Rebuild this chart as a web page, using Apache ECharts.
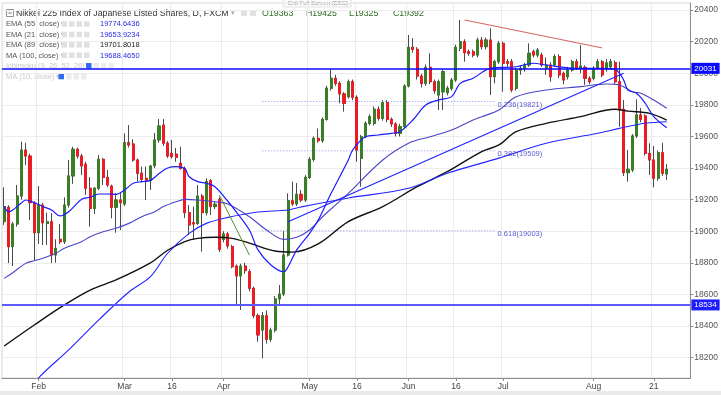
<!DOCTYPE html>
<html><head><meta charset="utf-8">
<script src="https://cdn.jsdelivr.net/npm/echarts@6/dist/echarts.min.js"></script>
<style>html,body{margin:0;padding:0;background:#fff}#c{width:721px;height:395px}</style>
</head><body><div id="c"></div>
<script>
// ---------- DATA ----------
const startDate = '2017-01-20';
const categoryCount = 160; // 155 candles + 5 empty slots on the right
const tickDates  = ['2017-02-01','2017-03-01','2017-03-16','2017-04-03','2017-05-01','2017-05-16','2017-06-01','2017-06-16','2017-07-03','2017-08-01','2017-08-21'];
const tickLabels = ['Feb','Mar','16','Apr','May','16','Jun','16','Jul','Aug','21'];

const opens  = [19061,19152,18903,19046,19223,19514,19476,19177,18991,19166,19050,19060,18850,18949,18934,19166,19350,19519,19476,19424,19272,19145,19272,19455,19341,19286,19152,19198,19173,19560,19552,19451,19367,19335,19320,19415,19578,19672,19557,19493,19488,19430,19398,19118,19054,19050,19223,19118,19320,19156,19202,18949,18983,18903,18780,18717,18780,18744,18639,18466,18375,18466,18317,18375,18572,18603,18850,19193,19173,19234,19198,19341,19455,19588,19573,19708,19905,19968,19936,19869,19851,19946,19848,19462,19598,19683,19683,19772,19715,19814,19708,19679,19620,19662,19919,20164,20151,19982,19936,20037,19946,19862,19883,19877,19905,19957,20158,20199,20136,20136,20115,20210,20168,20210,19978,20073,20189,20073,20073,19905,20020,20031,20052,20136,20115,20115,20031,20052,20052,20105,19999,19978,20020,20073,20031,20037,19968,19968,20031,20073,20031,20041,20067,19946,19772,19371,19388,19603,19736,19730,19493,19451,19335,19497,19363];
const highs  = [19278,19165,19060,19293,19567,19560,19490,19190,19286,19180,19118,19115,18949,19046,19215,19451,19535,19530,19490,19440,19343,19280,19483,19465,19388,19295,19242,19242,19620,19672,19582,19460,19409,19409,19420,19622,19710,19710,19570,19578,19527,19535,19410,19166,19156,19293,19235,19335,19330,19185,19215,19000,18995,18915,18790,18795,18800,18760,18650,18480,18490,18500,18390,18590,18660,19002,19240,19314,19305,19261,19355,19470,19600,19650,19720,19920,20025,19990,19950,19880,19960,19960,19860,19610,19695,19740,19790,19790,19830,19830,19720,19690,19680,19930,20242,20221,20165,19995,20055,20126,19960,19960,20025,19920,19970,20180,20337,20215,20150,20150,20225,20230,20225,20284,20085,20205,20200,20090,20090,20035,20050,20065,20189,20150,20160,20130,20100,20070,20120,20120,20010,20040,20085,20090,20179,20050,19980,20045,20090,20085,20090,20090,20080,20073,19830,19514,19615,19835,19780,19740,19557,19540,19510,19560,19425];
const lows   = [19040,18799,18780,19030,19200,19419,19071,18818,18920,18913,18913,18799,18801,18920,18920,19150,19300,19460,19356,19230,19029,19109,19260,19293,19280,19082,18991,19008,19160,19530,19440,19314,19310,19198,19261,19400,19560,19540,19464,19460,19440,19390,19084,18977,18945,19040,18871,19100,19103,19140,18870,18930,18890,18766,18534,18502,18730,18620,18450,18301,18196,18290,18300,18360,18534,18590,18840,19160,19160,19185,19185,19330,19440,19560,19560,19700,19890,19920,19810,19757,19840,19830,19440,19282,19590,19670,19670,19700,19700,19690,19660,19600,19600,19650,19910,20130,19960,19910,19920,19930,19870,19767,19767,19860,19890,19945,20140,20073,20110,20100,20100,20150,20150,19862,19936,20060,19883,20040,19880,19890,19990,20010,20040,20100,20100,20040,19990,19946,20040,19970,19930,19960,20010,20020,20000,19926,19930,19955,20020,19975,20010,20030,19930,19662,19350,19314,19375,19590,19690,19480,19356,19278,19320,19350,19325];
const closes = [19156,18903,19046,19223,19514,19476,19181,18991,19166,19054,19060,18850,18892,18934,19166,19350,19519,19476,19413,19272,19145,19272,19455,19341,19293,19152,19198,19181,19560,19546,19451,19367,19329,19320,19413,19578,19666,19557,19476,19472,19468,19398,19118,19040,19046,19223,19118,19314,19156,19171,18886,18983,18907,18776,18717,18780,18751,18639,18466,18344,18466,18317,18375,18572,18603,18850,19193,19173,19234,19198,19341,19455,19588,19573,19708,19905,19968,19936,19869,19810,19946,19848,19514,19598,19683,19725,19772,19715,19814,19708,19679,19620,19662,19919,20164,20151,19982,19936,20037,19946,19889,19946,20010,19905,19957,20164,20199,20130,20126,20115,20210,20168,20210,19978,20073,20189,20063,20063,19894,20020,20031,20052,20126,20115,20147,20052,20052,19978,20105,19989,19957,20020,20073,20031,20045,19968,19946,20031,20073,19989,20065,20073,19946,19767,19371,19392,19603,19736,19708,19493,19451,19335,19497,19367,19392];

// indicator lines: [candle index, price]
const ema21 = [[0,19156],[1,19124],[2,19135],[4,19179],[5,19198],[7,19181],[9,19156],[11,19135],[13,19097],[15,19124],[18,19202],[20,19215],[22,19236],[24,19236],[26,19234],[28,19261],[30,19304],[32,19314],[34,19322],[36,19365],[38,19400],[40,19409],[42,19395],[43,19345],[45,19314],[47,19303],[49,19282],[52,19190],[53,19156],[57,19008],[59,18882],[62,18787],[65,18744],[66,18776],[68,18882],[71,18987],[73,19071],[76,19240],[80,19451],[81,19514],[84,19598],[87,19609],[90,19620],[92,19630],[95,19704],[98,19799],[101,19831],[104,19852],[106,19936],[109,19968],[113,20031],[119,20041],[123,20063],[126,20052],[133,20031],[139,20031],[142,20025],[143,20000],[144,19957],[145,19894],[147,19873],[149,19810],[151,19725],[154,19655]];
const ema55 = [[0,18702],[2,18738],[5,18797],[7,18814],[9,18829],[12,18861],[14,18892],[18,18934],[20,18966],[23,18997],[26,19019],[29,19050],[32,19092],[35,19124],[37,19156],[40,19187],[42,19202],[45,19198],[49,19187],[52,19173],[57,19092],[61,19008],[65,18949],[68,18962],[71,19008],[74,19092],[77,19166],[80,19240],[88,19451],[94,19557],[99,19598],[104,19641],[109,19704],[111,19725],[115,19767],[119,19851],[126,19894],[134,19915],[140,19932],[143,19926],[146,19883],[148,19873],[151,19830],[154,19778]];
const ema89 = [[0,18274],[7,18407],[14,18534],[20,18628],[26,18692],[34,18800],[38,18880],[42,18935],[45,18955],[49,18962],[53,18955],[57,18925],[63,18875],[67,18868],[73,18920],[80,19061],[88,19156],[96,19282],[103,19377],[111,19504],[115,19546],[119,19630],[126,19683],[134,19725],[142,19772],[145,19760],[150,19746],[154,19704]];
const ma100 = [[5,17950],[8,18072],[15,18249],[22,18439],[29,18616],[34,18713],[38,18861],[43,18987],[47,19050],[52,19088],[59,19122],[66,19135],[69,19154],[80,19211],[94,19272],[103,19367],[115,19463],[126,19557],[138,19620],[143,19651],[149,19683],[154,19693]];

// drawings
const blueTrend  = [[66,19060],[144,20000]];
const redTrend   = [[107,20337],[139,20160]];
const greenTrend = [[50,19230],[57,18850]];
const fibLevels  = [0.236, 0.382, 0.618];
const fibPrices  = [19821, 19509, 19003];
const fibStart   = [60, 60, 60];
const fibEnd     = 113.5;
const hLines     = [20031, 18534];
const lastPrice  = 19392;

const legendNames  = ['EMA (55, close)','EMA (21, close)','EMA (89, close)','MA (100, close)'];
const legendValues = ['19774.6436','19653.9234','19701.8018','19688.4650'];
const hiddenNames  = ['Ichimoku (9, 26, 52, 26)','MA (10, close)'];
const titleText = 'Nikkei 225 Index of Japanese Listed Shares, D, FXCM';
const ohlcText = ['O19363','H19425','L19325','C19392'];

// ---------- BUILD ----------
function weekdays(start, n){
  const out=[]; const d=new Date(start+'T00:00:00Z');
  while(out.length<n){ const wd=d.getUTCDay(); if(wd!==0&&wd!==6) out.push(d.toISOString().slice(0,10)); d.setUTCDate(d.getUTCDate()+1);} return out;
}
const categories = weekdays(startDate, categoryCount);
const labelMap = {}; tickDates.forEach((d,i)=>labelMap[d]=tickLabels[i]);
const isTick = (i, v) => labelMap[v] !== undefined;

const UP='#3a7f27', DOWN='#ec1c24', WICK='#4a4a4a';
const FONT='"Liberation Sans", Arial, sans-serif';
const wickData = opens.map((o,i)=>[o, closes[i], lows[i], highs[i]]);
const bodyData = opens.map((o,i)=>[o, closes[i], Math.min(o,closes[i]), Math.max(o,closes[i])]);

function lineS(data, color, width, smooth){
  return {type:'line', data, showSymbol:false, smooth: smooth===undefined?0.35:smooth, lineStyle:{color, width}, z:4, silent:true, animation:false, clip:true};
}

const markData = [];
hLines.forEach((v,i)=>{
  const c = i===0 ? '#0a0aff' : '#5b5bff';
  markData.push({yAxis:v, lineStyle:{color:c, width:i===0?1.5:2, type:'solid'},
    label:{show:true, position:'end', formatter:String(v), backgroundColor:i===0?'#0a0aff':'#1e1eff', color:'#fff', padding:[2,3,1,3], fontSize:8, fontFamily:FONT, distance:1}});
});
markData.push({yAxis:lastPrice, lineStyle:{opacity:0, width:0},
  label:{show:true, position:'end', formatter:String(lastPrice), backgroundColor:'#3d7d22', color:'#fff', padding:[2,3,1,3], fontSize:8, fontFamily:FONT, distance:1}});

const fibSeries = fibLevels.map((f,i)=>({
  type:'line', data:[[fibStart[i], fibPrices[i]],[fibEnd, fibPrices[i]]], showSymbol:false, silent:true, z:3,
  lineStyle:{color:'#8f8ff5', width:1, type:[1,2]},
  endLabel:{show:true, formatter: f.toFixed(3)+'('+fibPrices[i]+')', color:'#5c5cd6', fontSize:7.5, fontFamily:FONT, distance:3, offset:[0,3]}
}));

const graphics = [];
// title row
graphics.push({type:'rect', shape:{x:6.5,y:9.5,width:7,height:7}, style:{fill:'#fff', stroke:'#777', lineWidth:0.8}});
graphics.push({type:'line', shape:{x1:8.3,y1:13,x2:11.8,y2:13}, style:{stroke:'#555', lineWidth:0.8}});
graphics.push({type:'text', x:16, y:13.5, style:{text:titleText, fill:'#333', font:'8.8px '+FONT, verticalAlign:'middle'}});
graphics.push({type:'text', x:231, y:13.5, style:{text:'▾', fill:'#aaa', font:'7px '+FONT, verticalAlign:'middle'}});
[241,250].forEach(x=>graphics.push({type:'rect', shape:{x:x,y:10,width:6,height:6}, style:{fill:'#e2e2e2'}}));
const ohlcX=[262,306,349,393];
ohlcText.forEach((t,i)=>graphics.push({type:'text', x:ohlcX[i], y:13.5, style:{text:t, fill:'#2f6a22', font:'8.8px '+FONT, verticalAlign:'middle'}}));
// tooltip
graphics.push({type:'rect', shape:{x:283,y:-2,width:68,height:9}, style:{fill:'#fafafa', stroke:'#ddd', lineWidth:0.8}});
graphics.push({type:'text', x:288, y:3, style:{text:'Exit Full Screen (ESC)', fill:'#999', font:'6px '+FONT, verticalAlign:'middle'}});
// indicator rows
const rowY=[24.3,34.7,45.1,55.5,66,76.8];
legendNames.forEach((n,i)=>{
  const y=rowY[i];
  graphics.push({type:'text', x:6, y:y, style:{text:n+' ▾', fill:'#555', font:'7.5px '+FONT, verticalAlign:'middle'}});
  [61.5,69,76.5,84].forEach(x=>graphics.push({type:'rect', shape:{x:x,y:y-3,width:5.5,height:5.5}, style:{fill:'#e0e0e0'}}));
  graphics.push({type:'text', x:100, y:y, style:{text:legendValues[i], fill:i===2?'#222':'#2c2ce6', font:'7.5px '+FONT, verticalAlign:'middle'}});
});
hiddenNames.forEach((n,i)=>{
  const y=rowY[4+i]; const x0 = i===0?86:58.5;
  graphics.push({type:'text', x:6, y:y, style:{text:n+' ▾', fill:'#c9c9c9', font:'7.5px '+FONT, verticalAlign:'middle'}});
  graphics.push({type:'rect', shape:{x:x0,y:y-3,width:5.5,height:5.5}, style:{fill:'#2f6df0'}});
  [1,2,3].forEach(k=>graphics.push({type:'rect', shape:{x:x0+k*7.5,y:y-3,width:5.5,height:5.5}, style:{fill:'#ececec'}}));
});
// bottom strip
graphics.push({type:'rect', shape:{x:0,y:391,width:721,height:4}, style:{fill:'#e9e9e9'}});

const option = {
  animation:false,
  backgroundColor:'#fff',
  grid:{left:2, right:28, top:3, bottom:17, show:true, borderColor:'#d6d6d6', borderWidth:1, backgroundColor:'transparent'},
  xAxis:{type:'category', data:categories, boundaryGap:true,
    axisLine:{show:true, lineStyle:{color:'#8c8c8c'}},
    axisTick:{show:true, interval:isTick, alignWithLabel:true, length:3, lineStyle:{color:'#8c8c8c'}},
    axisLabel:{interval:isTick, formatter:v=>labelMap[v]||'', color:'#444', fontSize:8.5, fontFamily:FONT, margin:4},
    splitLine:{show:true, interval:isTick, lineStyle:{color:'#ececec'}}},
  yAxis:{type:'value', position:'right', min:18071.7, max:20444.3, splitNumber:12,
    axisLine:{show:true, lineStyle:{color:'#8c8c8c'}},
    axisTick:{show:true, length:3, lineStyle:{color:'#8c8c8c'}},
    axisLabel:{color:'#555', fontSize:8.5, fontFamily:FONT, margin:4, showMinLabel:false, showMaxLabel:false, formatter:v=>String(Math.round(v))},
    splitLine:{show:true, lineStyle:{color:'#ececec'}}},
  series:[
    {type:'candlestick', data:wickData, barWidth:2.6, silent:true, z:2,
      itemStyle:{color:WICK, color0:WICK, borderColor:WICK, borderColor0:WICK, borderWidth:1}},
    {type:'candlestick', data:bodyData, barWidth:2.6, silent:true, z:3,
      itemStyle:{color:UP, color0:DOWN, borderColor:UP, borderColor0:DOWN, borderWidth:1},
      markLine:{symbol:['none','none'], silent:true, animation:false, z:6, data:markData}},
    ...fibSeries,
    lineS(ema89, '#111111', 1.4),
    lineS(ma100, '#2424ff', 1.1),
    lineS(ema55, '#4b45c9', 1.1),
    lineS(ema21, '#1b1bff', 1.2),
    lineS(blueTrend, '#2020ff', 1.1, false),
    lineS(redTrend, '#d9605c', 1, false),
    lineS(greenTrend, '#4f8f2b', 1, false)
  ],
  graphic: graphics
};
const chart = echarts.init(document.getElementById('c'));
chart.setOption(option);
</script></body></html>
